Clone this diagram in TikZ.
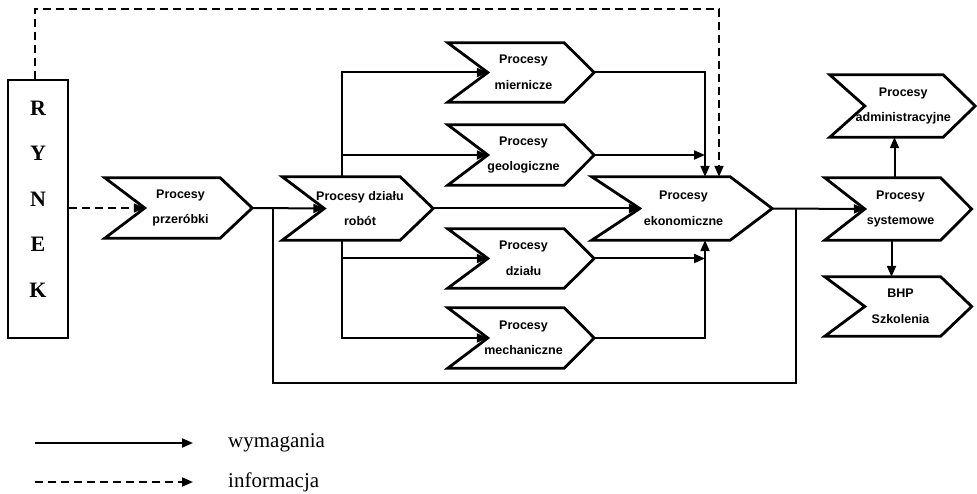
\documentclass[tikz,border=0pt]{standalone}
\usepackage{fontspec}
\setmainfont{Liberation Serif}
\newfontfamily\boxfont{Liberation Sans}
\usetikzlibrary{arrows.meta,positioning}

\tikzset{
  proc/.style={minimum width=#1,minimum height=60pt,inner sep=0pt,align=center,
    font=\boxfont\bfseries\fontsize{12.5}{25.5}\selectfont},
  proc/.default=111pt,
  chevline/.style={line width=2.8pt,line join=miter},
  req/.style={line width=2pt,-{Triangle[length=11pt,width=9pt]}},
  info/.style={req,dash pattern=on 8pt off 5pt},
  plain/.style={line width=2pt},
  rynekbox/.style={draw,line width=2pt,minimum width=60pt,minimum height=258pt,inner sep=0pt},
  rynektxt/.style={align=center,inner sep=0pt,font=\bfseries\fontsize{22}{45.5}\selectfont},
  legtxt/.style={anchor=west,inner sep=0pt,font=\fontsize{21}{24}\selectfont}
}

\begin{document}
\begin{tikzpicture}[x=1pt,y=-1pt]
\useasboundingbox (0,0) rectangle (977,494);

% rynek
\node[rynekbox] (rynek) at (38,209) {};
\node[rynektxt] (rynek-txt) at (38,199) {R\\Y\\N\\E\\K};

% procesy
\node[proc] (prz) at (180.5,208) {Procesy\\przeróbki};
\node[proc=113pt,minimum height=63pt] (rob) at (360,208.5) {Procesy działu\\robót};
\node[proc,minimum height=59pt] (mier) at (523.5,72.5) {Procesy\\miernicze};
\node[proc] (geo) at (523.5,155) {Procesy\\geologiczne};
\node[proc,minimum height=59pt] (dzi) at (523.5,258.5) {Procesy\\działu};
\node[proc] (mech) at (523.5,338) {Procesy\\mechaniczne};
\node[proc=135pt,minimum height=63pt] (eko) at (683.5,208.5) {Procesy\\ekonomiczne};
\node[proc,minimum height=62pt] (sys) at (900.5,209) {Procesy\\systemowe};
\node[proc=111.5pt,minimum height=62pt] (adm) at (903.25,106) {Procesy\\administracyjne};
\node[proc,minimum height=59pt] (bhp) at (900.5,306.5) {BHP\\Szkolenia};

% obrys strzalek
\foreach \n/\a/\b in {prz/20/16,rob/21/16.5,mier/20/15,geo/20/15,dzi/20/15,mech/20/15,
                      eko/24/21,sys/20/15.5,adm/17.5/16,bhp/20/15.5} {
  \draw[chevline] ([xshift=-\a pt]\n.north west) -- ([xshift=-\b pt]\n.north east)
    -- ([xshift=\b pt]\n.east) coordinate (\n-out)
    -- ([xshift=-\b pt]\n.south east) -- ([xshift=-\a pt]\n.south west)
    -- ([xshift=\a pt]\n.west) coordinate (\n-in) -- cycle;
}

% informacja
\draw[info] (rynek.east |- prz-in) -- (prz-in);
\draw[info] ([xshift=-3pt]rynek.north) -- ++(0,-70) -| ([xshift=35.5pt]eko.north);

% wymagania
\coordinate (loopL) at (273,383);
\coordinate (loopR) at (796,383);
\coordinate (robN) at ([xshift=-18pt]rob.north);
\coordinate (robS) at ([xshift=-18pt]rob.south);
\coordinate (ekoN) at ([xshift=21.5pt]eko.north);
\coordinate (ekoS) at ([xshift=21.5pt]eko.south);
\draw[req] (prz-out) -- (rob-in);
\draw[plain] (loopL |- prz-out) -- (loopL) -- (loopR) -- (loopR |- eko-out);
\draw[req] (rob-out) -- (eko-in);
\draw[req] (robN) |- (mier-in);
\draw[req] (robN |- geo-in) -- (geo-in);
\draw[req] (robS) |- (mech-in);
\draw[req] (robS |- dzi-in) -- (dzi-in);
\draw[req] (mier-out) -| (ekoN);
\draw[req] (geo-out) -- (geo-out -| ekoN);
\draw[req] (dzi-out) -- (dzi-out -| ekoS);
\draw[req] (mech-out) -| (ekoS);
\draw[req] (eko-out) -- (sys-in);
\draw[req] ([xshift=-6pt]sys.north) -- ([xshift=-6pt]sys.north |- adm.south);
\draw[req] ([xshift=-9pt]sys.south) -- ([xshift=-9pt]sys.south |- bhp.north);

% legenda
\coordinate (legA) at (35,443);
\coordinate (legB) at (193,443);
\coordinate (legC) at (35,482);
\coordinate (legD) at (193,482);
\draw[req] (legA) -- (legB);
\draw[info] (legC) -- (legD);
\node[legtxt,right=35pt of legB] (leg-req) {wymagania};
\node[legtxt,right=35pt of legD] (leg-info) {informacja};
\end{tikzpicture}
\end{document}
